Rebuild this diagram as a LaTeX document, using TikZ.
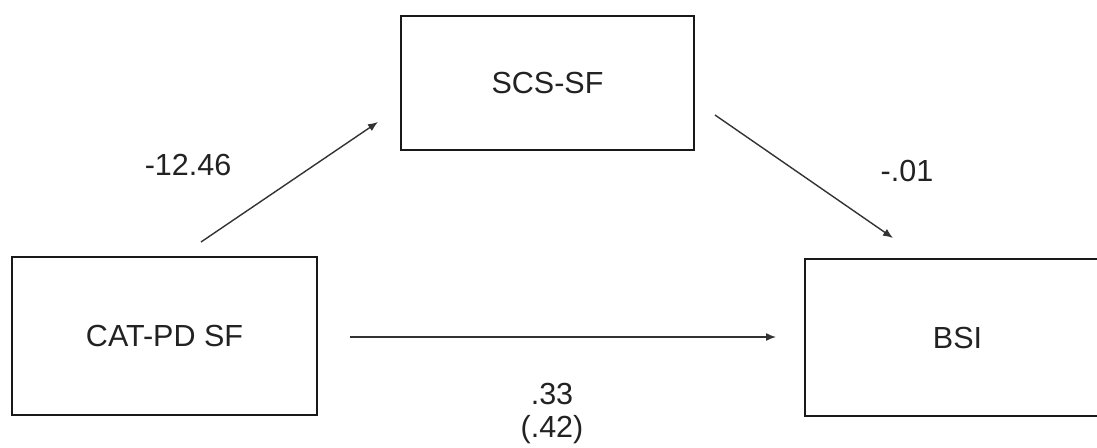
\documentclass[tikz,border=0pt]{standalone}
\usepackage{fontspec}
\setmainfont{Liberation Sans}
\usetikzlibrary{arrows.meta}
\definecolor{txt}{HTML}{222222}
\definecolor{ln}{HTML}{333333}
\begin{document}
\begin{tikzpicture}[x=1pt,y=-1pt,
  varbox/.style={draw=black!90, line width=2.6pt, minimum width=#1, inner sep=0pt, text=txt,
    font=\fontsize{30.5}{36}\selectfont},
  varbox/.default={305pt},
  pathlabel/.style={text=txt, inner sep=0pt, font=\fontsize{30.5}{36}\selectfont},
  patharrow/.style={draw=ln, line width=1.4pt, -{Latex[length=10pt,width=8pt]}}]
\useasboundingbox (0,0) rectangle (1097,447);
\clip (0,0) rectangle (1097,447);
\fill[white] (0,0) rectangle (1097,447);
\node[varbox=293pt, minimum height=134pt] (scs) at (547.5,83) {SCS-SF};
\node[varbox=305pt, minimum height=158pt] (cat) at (164.5,336) {CAT-PD SF};
\node[varbox=305pt, minimum height=157pt] (bsi) at (957.5,337.5) {BSI};
\coordinate (a1s) at (201,242);
\coordinate (a1e) at (378,122);
\coordinate (a2s) at (715,115);
\coordinate (a2e) at (893,238);
\coordinate (a3s) at (350,337);
\coordinate (a3e) at (776,337);
\draw[patharrow] (a1s) -- (a1e);
\draw[patharrow] (a2s) -- (a2e);
\draw[patharrow] (a3s) -- (a3e);
\node[pathlabel] (l1) at (188,165) {-12.46};
\node[pathlabel] (l2) at (907,171) {-.01};
\node[pathlabel, align=center] (l3) at (552,414) {.33\\[-3pt](.42)};
\end{tikzpicture}
\end{document}
